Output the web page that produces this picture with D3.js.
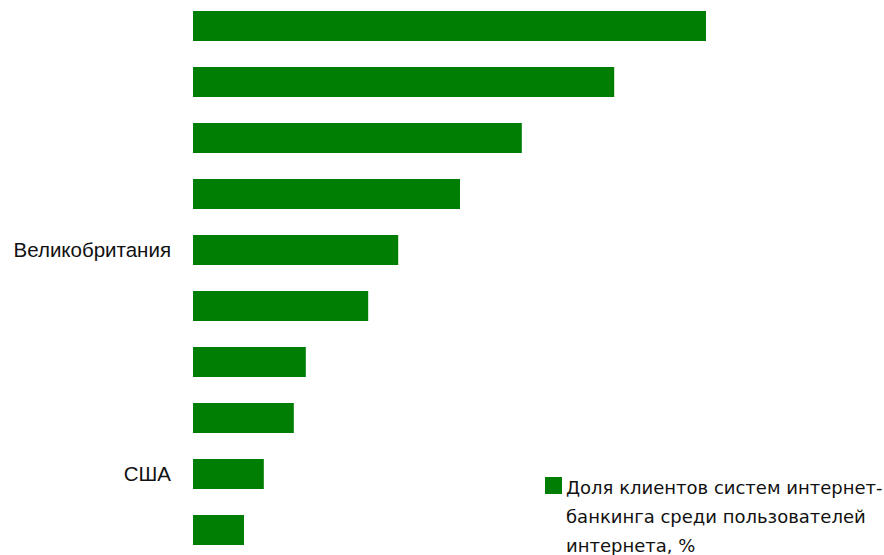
<!DOCTYPE html>
<html>
<head>
<meta charset="utf-8">
<script src="https://cdn.jsdelivr.net/npm/d3@7"></script>
<style>
  html, body { margin: 0; padding: 0; background: #fff; }
  svg { display: block; }
</style>
</head>
<body>
<svg id="chart" width="884" height="555"></svg>
<script>
// Share of internet-banking clients among internet users, %
const categories = ["c1", "c2", "c3", "c4", "Великобритания", "c6", "c7", "c8", "США", "c10"];
const shownLabels = ["", "", "", "", "Великобритания", "", "", "", "США", ""];
const values = [85.5, 70.2, 54.8, 44.5, 34.2, 29.2, 18.8, 16.8, 11.8, 8.5];
const legendLines = ["Доля клиентов систем интернет-", "банкинга среди пользователей", "интернета, %"];

const barColor = "#007d03";
const svg = d3.select("#chart");

const x = d3.scaleLinear().domain([0, 100]).range([193, 793]);
const y = d3.scaleBand().domain(categories).range([-2, 558]).paddingInner(0.4643).paddingOuter(0.2321);

svg.append("g")
  .selectAll("rect")
  .data(values)
  .join("rect")
  .attr("x", x(0))
  .attr("y", (d, i) => y(categories[i]))
  .attr("width", d => x(d) - x(0))
  .attr("height", y.bandwidth())
  .attr("fill", barColor);

const yAxis = d3.axisLeft(y).tickSize(0).tickPadding(22).tickFormat((d, i) => shownLabels[i]);
const ga = svg.append("g").attr("transform", `translate(${x(0)},0)`).call(yAxis);
ga.select(".domain").remove();
ga.selectAll("text")
  .attr("font-family", "'Liberation Sans', Arial, sans-serif")
  .attr("font-size", 20.5)
  .attr("fill", "#111");

// Legend
const lg = svg.append("g").attr("transform", "translate(545,477)");
lg.append("rect").attr("width", 17).attr("height", 17).attr("fill", barColor);
lg.selectAll("text")
  .data(legendLines)
  .join("text")
  .attr("x", 21)
  .attr("y", (d, i) => 17 + i * 29)
  .attr("font-family", "'DejaVu Sans', sans-serif")
  .attr("font-size", 18)
  .attr("fill", "#111")
  .text(d => d);
</script>
</body>
</html>
